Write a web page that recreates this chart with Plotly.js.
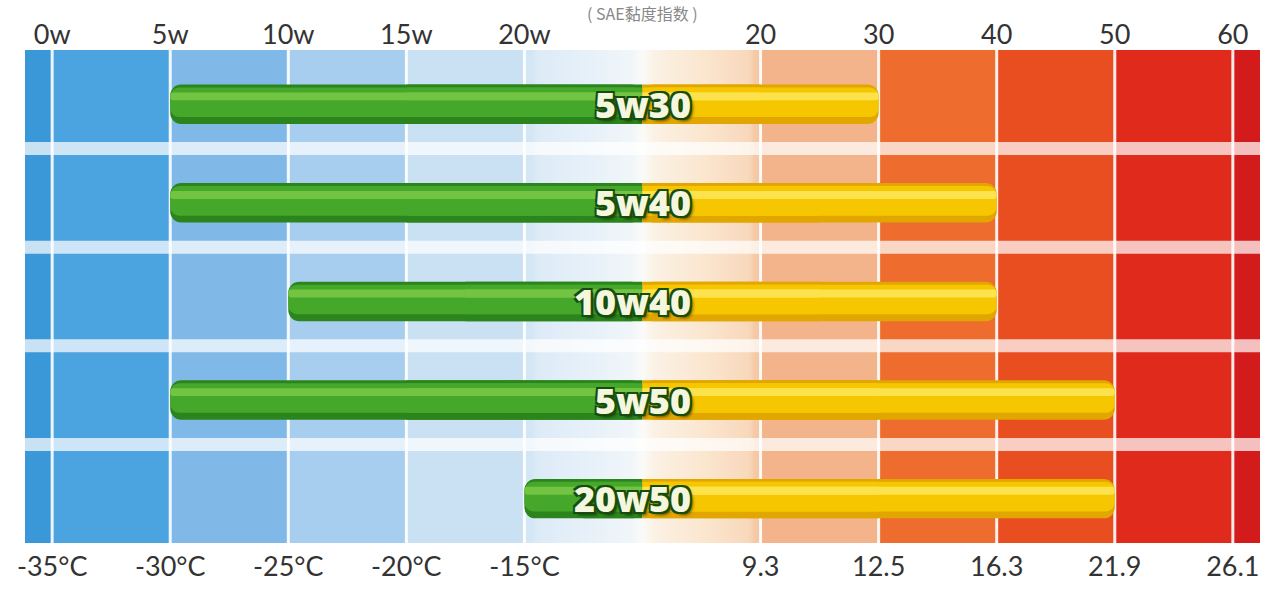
<!DOCTYPE html>
<html>
<head>
<meta charset="utf-8">
<script src="https://cdn.plot.ly/plotly-3.0.1.min.js"></script>
<style>
  html, body { margin: 0; padding: 0; background: #fff; }
  #chart { width: 1280px; height: 604px; }
</style>
</head>
<body>
<div id="chart"></div>
<script>
// axis labels (SAE grade on top, temperature / viscosity at the bottom)
const topTicks = ['0w', '5w', '10w', '15w', '20w', '', '20', '30', '40', '50', '60']
const bottomTicks = ['-35°C', '-30°C', '-25°C', '-20°C', '-15°C', '', '9.3', '12.5', '16.3', '21.9', '26.1']

// oil grades: winter part and summer part
const grades = ['5w30', '5w40', '10w40', '5w50', '20w50']
const coldGrade = ['5w', '5w', '10w', '5w', '20w']
const hotGrade = ['30', '40', '40', '50', '50']

// background column colours, cold to hot
const bgColors = ['#3a98d8', '#4ba3e0', '#80b9e8', '#a8ceef', '#cae1f4', '#e4eff9',
  '#fbeedd', '#f3b48c', '#ee6c2e', '#e84e20', '#e02a1c', '#d31b1b']
// the soft middle blend (no line between 20w and 20)
const midColors = ['#d3e6f5', '#e6f0f9', '#fbfbf9', '#fbe7d0', '#f5c9a6']

//chart style vars
const tickFont = { family: 'Lato, "Open Sans", sans-serif', size: 27, color: '#333' }
const xPad = 0.23

const n = topTicks.length
const split = topTicks.indexOf('')
const tickIdx = topTicks.map((t, i) => i)
const rows = grades.map((g, i) => i)
const start = coldGrade.map(g => topTicks.indexOf(g))
const end = hotGrade.map(g => topTicks.indexOf(g))

// column edges for the background cells
const bgEdges = [-xPad].concat(tickIdx, [n - 1 + xPad])
const midEdges = [split - 1, split - 0.9, split - 0.1, split + 0.1, split + 0.9, split + 1]

function scaleFrom(colors) {
  return colors.map((c, i) => [i / (colors.length - 1), c])
}

let background = {
  type: 'heatmap',
  x: bgEdges,
  y: [-0.5, rows.length - 0.5],
  z: [bgColors.map((c, i) => i)],
  colorscale: scaleFrom(bgColors),
  zmin: 0,
  zmax: bgColors.length - 1,
  showscale: false,
  hoverinfo: 'skip',
}
let middle = {
  type: 'heatmap',
  x: midEdges,
  y: [-0.5, rows.length - 0.5],
  z: [midColors.map((c, i) => i)],
  colorscale: scaleFrom(midColors),
  zmin: 0,
  zmax: midColors.length - 1,
  zsmooth: 'best',
  showscale: false,
  hoverinfo: 'skip',
}

// white grid: vertical lines at every tick but the blank one, stripes between rows
let vx = [], vy = []
tickIdx.filter(i => i !== split).forEach(i => {
  vx.push(i, i, null)
  vy.push(-0.5, rows.length - 0.5, null)
})
let hx = [], hy = []
rows.slice(1).forEach(r => {
  hx.push(-xPad, n - 1 + xPad, null)
  hy.push(r - 0.5, r - 0.5, null)
})
let vLines = {
  type: 'scatter', mode: 'lines', x: vx, y: vy,
  line: { color: 'rgba(255,255,255,0.9)', width: 3 }, hoverinfo: 'skip',
}
let hLines = {
  type: 'scatter', mode: 'lines', x: hx, y: hy,
  line: { color: 'rgba(255,255,255,0.72)', width: 13 }, hoverinfo: 'skip',
}

// bars: green from the winter grade to the middle, yellow from the middle to the summer grade
function barLayer(lengths, color, width, offset, radius) {
  return {
    type: 'bar',
    orientation: 'h',
    xaxis: 'x2',
    yaxis: 'y2',
    y: rows,
    base: rows.map(() => split),
    x: lengths,
    width: rows.map(() => width),
    offset: rows.map(() => offset),
    marker: { color: color, cornerradius: radius, line: { width: 0 } },
    hoverinfo: 'skip',
  }
}
// rounded tube; each shade gets a square half near the middle so the colours meet flat
function tube(lengths, dark, main, light) {
  const half = lengths.map(v => v / 2)
  return [
    barLayer(lengths, dark, 0.4, -0.2, 11),
    barLayer(half, dark, 0.4, -0.2, 0),
    barLayer(lengths, main, 0.3, -0.17, 9),
    barLayer(half, main, 0.3, -0.17, 0),
    barLayer(lengths, light, 0.08, -0.12, 4),
    barLayer(half, light, 0.08, -0.12, 0),
  ]
}
const greenLen = start.map(s => s - split)
const yellowLen = end.map(e => e - split)

let bars = tube(greenLen, '#2b841c', '#45a82a', '#74c443')
  .concat(tube(yellowLen, '#e2a600', '#f6c700', '#fce24c'))

const outline = '#174d0c'
let labels = grades.map((g, i) => ({
  xref: 'x2',
  yref: 'y2',
  x: split,
  y: i,
  xanchor: 'right',
  xshift: 50,
  text: g,
  showarrow: false,
  font: {
    family: '"Open Sans", Roboto, sans-serif',
    size: 36,
    weight: 800,
    color: '#f4f6de',
    shadow: `2px 2px 0 ${outline}, -2px -2px 0 ${outline}, 2px -2px 0 ${outline}, -2px 2px 0 ${outline}, 3px 3px 3px rgba(0,0,0,0.55)`,
  },
}))

labels.push({
  xref: 'paper',
  yref: 'paper',
  x: 0.5,
  y: 1.075,
  yanchor: 'middle',
  text: '( SAE黏度指数 )',
  showarrow: false,
  font: { family: '"Noto Sans CJK SC", sans-serif', size: 16, color: '#888' },
})

let layout = {
  width: 1280,
  height: 604,
  margin: { l: 25, r: 20, t: 50, b: 61 },
  paper_bgcolor: '#fff',
  plot_bgcolor: '#fff',
  showlegend: false,
  barmode: 'overlay',
  xaxis: {
    range: [-xPad, n - 1 + xPad],
    tickvals: tickIdx,
    ticktext: bottomTicks,
    tickfont: tickFont,
    ticklabelstandoff: 5,
    showgrid: false,
    zeroline: false,
    showline: false,
    ticks: '',
  },
  yaxis: {
    range: [rows.length - 0.5, -0.5],
    visible: false,
    fixedrange: true,
  },
  xaxis2: {
    overlaying: 'x',
    side: 'top',
    range: [-xPad, n - 1 + xPad],
    tickvals: tickIdx,
    ticktext: topTicks,
    tickfont: tickFont,
    showgrid: false,
    zeroline: false,
    showline: false,
    ticks: '',
  },
  yaxis2: {
    overlaying: 'y',
    range: [rows.length - 0.55, -0.55],
    visible: false,
  },
  annotations: labels,
}

Plotly.newPlot('chart', [background, middle, vLines, hLines].concat(bars), layout, {
  displaylogo: false,
  displayModeBar: false,
  staticPlot: true,
})
</script>
</body>
</html>
